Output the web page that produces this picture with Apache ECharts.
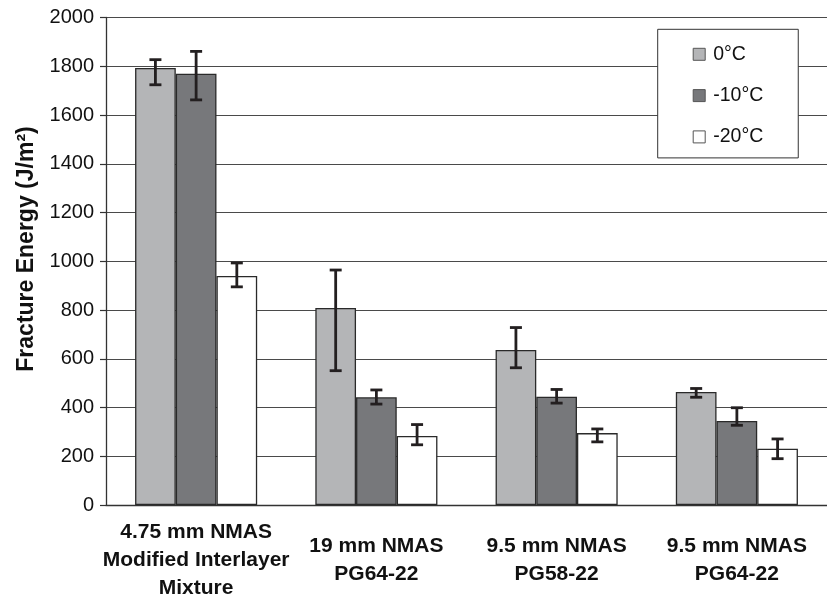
<!DOCTYPE html>
<html>
<head>
<meta charset="utf-8">
<script src="https://cdn.jsdelivr.net/npm/echarts@6/dist/echarts.min.js"></script>
<style>
  html, body { margin: 0; padding: 0; background: #fff; }
  #chart { width: 827px; height: 602px; }
</style>
</head>
<body>
<div id="chart"></div>
<script>
// Mixture categories along the x axis
const categories = [
  '4.75 mm NMAS\nModified Interlayer\nMixture',
  '19 mm NMAS\nPG64-22',
  '9.5 mm NMAS\nPG58-22',
  '9.5 mm NMAS\nPG64-22'
];

// Test temperatures (series names)
const seriesNames = ['0°C', '-10°C', '-20°C'];

// Mean fracture energy (J/m²) per temperature
const energy0 = [1793, 808, 636, 464];
const energy10 = [1769, 442, 444, 345];
const energy20 = [940, 283, 295, 231];

// Error bar ends (low / high) per temperature
const low0 = [1724, 551, 563, 442];
const high0 = [1827, 964, 728, 478];
const low10 = [1662, 414, 418, 327];
const high10 = [1861, 472, 474, 399];
const low20 = [895, 247, 259, 190];
const high20 = [993, 330, 312, 271];

// Y axis ticks
const yMin = 0, yMax = 2000, yStep = 200;

const means = [energy0, energy10, energy20];
const lows = [low0, low10, low20];
const highs = [high0, high10, high20];
const fills = ['#b4b5b7', '#77787b', '#ffffff'];

const BAR_W = 40.7;
const textFont = 'Liberation Sans';

const chart = echarts.init(document.getElementById('chart'), null, { renderer: 'canvas' });

const barSeries = seriesNames.map((name, i) => ({
  name: name,
  type: 'bar',
  data: means[i],
  barWidth: BAR_W,
  barGap: '0%',
  itemStyle: { color: fills[i], borderColor: '#2a2a2a', borderWidth: 1.3 },
  emphasis: { disabled: true },
  z: 2
}));

// Whiskers drawn at each bar's centre
const errSeries = seriesNames.map((name, i) => ({
  name: name + ' error',
  type: 'custom',
  data: categories.map((c, k) => [k, lows[i][k], highs[i][k]]),
  encode: { x: 0, y: [1, 2] },
  z: 5,
  silent: true,
  renderItem: function (params, api) {
    const k = api.value(0);
    const pLow = api.coord([k, api.value(1)]);
    const pHigh = api.coord([k, api.value(2)]);
    const x = pLow[0] + (i - 1) * BAR_W;
    const cap = 6;
    const style = { stroke: '#231f20', lineWidth: 2.8, lineCap: 'butt' };
    return {
      type: 'group',
      children: [
        { type: 'line', shape: { x1: x, y1: pLow[1], x2: x, y2: pHigh[1] }, style: style },
        { type: 'line', shape: { x1: x - cap, y1: pHigh[1], x2: x + cap, y2: pHigh[1] }, style: style },
        { type: 'line', shape: { x1: x - cap, y1: pLow[1], x2: x + cap, y2: pLow[1] }, style: style }
      ]
    };
  }
}));

chart.setOption({
  animation: false,
  backgroundColor: '#ffffff',
  grid: { left: 106, top: 17.5, width: 728, height: 492, containLabel: false },
  legend: {
    data: seriesNames,
    orient: 'vertical',
    left: 657.7,
    top: 29.3,
    padding: [15, 35, 11, 35],
    itemWidth: 12,
    itemHeight: 12,
    itemGap: 21.3,
    icon: 'rect',
    backgroundColor: '#ffffff',
    borderColor: '#333333',
    borderWidth: 1,
    borderRadius: 0,
    selectedMode: false,
    itemStyle: { borderColor: '#555555', borderWidth: 1 },
    textStyle: { fontFamily: textFont, fontSize: 19.5, color: '#111', lineHeight: 20, padding: [0, 0, 0, 3] }
  },
  xAxis: {
    type: 'category',
    data: categories,
    axisLine: { show: true, lineStyle: { color: '#333', width: 1.3 } },
    axisTick: { show: false },
    axisLabel: {
      interval: 0,
      margin: 55,
      verticalAlign: 'middle',
      align: 'center',
      fontFamily: 'Liberation Sans',
      fontWeight: 'bold',
      fontSize: 21,
      lineHeight: 28,
      color: '#111'
    },
    splitLine: { show: false }
  },
  yAxis: {
    type: 'value',
    min: yMin,
    max: yMax,
    interval: yStep,
    axisLine: { show: true, lineStyle: { color: '#333', width: 1.3 } },
    axisTick: { show: true, length: 6, inside: false, lineStyle: { color: '#333', width: 1.2 } },
    axisLabel: {
      margin: 12,
      fontFamily: textFont,
      fontSize: 20,
      color: '#111',
      formatter: function (v) { return String(v); }
    },
    splitLine: { show: true, lineStyle: { color: '#4a4a4a', width: 1.1 } }
  },
  graphic: [{
    type: 'text',
    x: 27,
    y: 249,
    rotation: Math.PI / 2,
    style: {
      text: 'Fracture Energy (J/m²)',
      fontFamily: 'Liberation Sans',
      fontWeight: 'bold',
      fontSize: 23,
      fill: '#111',
      align: 'center',
      verticalAlign: 'middle'
    }
  }],
  series: barSeries.concat(errSeries)
});
</script>
</body>
</html>
